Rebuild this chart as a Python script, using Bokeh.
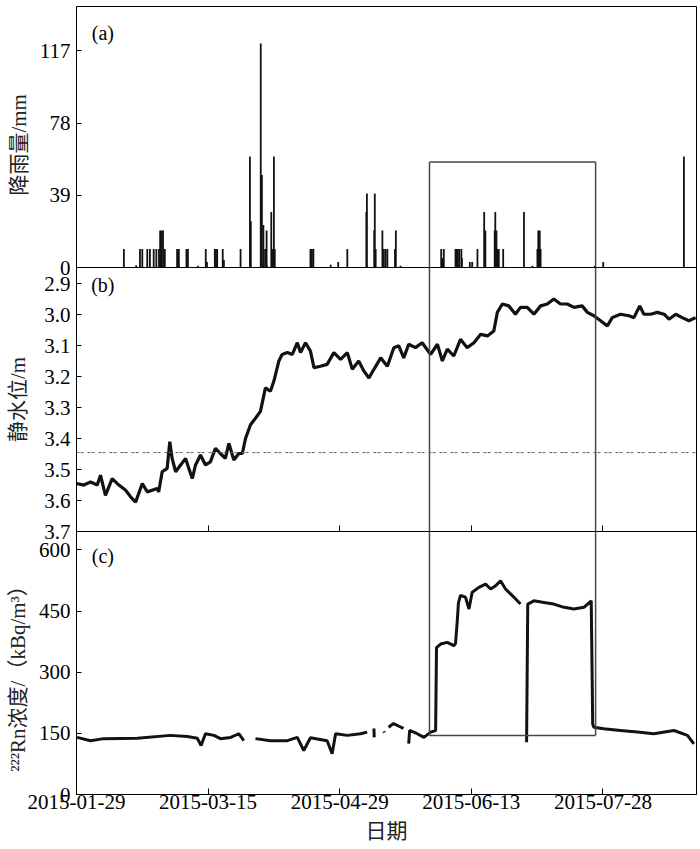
from bokeh.plotting import figure
from bokeh.layouts import column
from bokeh.models import Range1d, FixedTicker, Label, Span, PrintfTickFormatter
from bokeh.embed import file_html
from bokeh.resources import INLINE

NAN = float("nan")

# ---------------- data (x = days since 2015-01-29) ----------------
tick_days = [0, 45, 90, 135, 180]
tick_labels = ["2015-01-29", "2015-03-15", "2015-04-29", "2015-06-13", "2015-07-28"]

rain_day = [16.2, 20.4, 21.7, 22.5, 24.2, 25.1, 26.4, 27.3, 28.2, 28.6, 29.1, 29.6, 30.2,
            34.4, 35.0, 37.6, 38.1, 41.5, 44.2, 44.6, 47.3, 47.7, 48.1, 50.0, 50.4, 56.1,
            59.3, 59.6, 63.0, 63.4, 63.9, 64.5, 65.0, 65.2, 66.6, 66.9, 67.3, 67.5, 67.8,
            80.0, 80.5, 81.0, 86.9, 89.5, 92.6, 99.1, 99.3, 101.8, 102.0, 102.3, 104.6,
            105.1, 105.7, 106.3, 108.9, 109.2, 110.8, 124.7, 125.1, 125.6, 129.6, 130.0,
            130.4, 130.9, 131.6, 131.8, 134.5, 135.3, 137.1, 139.4, 139.8, 143.0, 143.2,
            143.6, 143.9, 144.4, 145.9, 153.0, 155.9, 157.6, 157.9, 158.4, 158.7, 177.2,
            180.1, 207.7]
rain_mm = [10, 1.2, 10, 10, 10, 10, 10, 10, 10, 20, 20, 20, 10,
           10, 10, 10, 10, 1, 10, 3, 10, 10, 10, 10, 4, 10,
           60, 25, 121, 50, 23, 10, 20, 1, 30, 10, 10, 60, 10,
           10, 10, 10, 1.5, 3, 10, 30, 40, 20, 40, 10, 20,
           10, 10, 10, 10, 20, 1, 10, 5, 10, 10, 10,
           10, 10, 10, 5, 3, 3, 10, 30, 20, 20, 30,
           20, 10, 10, 10, 30, 1, 10, 20, 20, 10, 1,
           3, 60]

level_day = [0, 2.5, 4.8, 7.1, 8.2, 9.9, 12.2, 14.5, 16.8, 18.5, 20.2, 22.5, 24.2, 27.6,
             28.1, 29.3, 31.0, 31.9, 32.7, 33.9, 35.6, 37.3, 38.4, 39.6, 40.7, 42.4, 44.1,
             45.8, 47.5, 49.2, 50.9, 52.1, 53.8, 55.5, 56.7, 57.8, 59.5, 61.2, 62.9, 64.6,
             66.3, 67.5, 69.2, 70.3, 72.1, 73.8, 75.5, 76.6, 78.3, 80.0, 81.2, 83.4, 85.7,
             88.0, 90.3, 92.6, 94.3, 96.5, 98.3, 100.0, 101.7, 104.0, 106.3, 108.5, 110.2,
             111.9, 113.6, 115.9, 118.2, 121.1, 123.4, 125.1, 126.8, 129.0, 131.3, 133.6,
             135.9, 138.2, 140.5, 142.7, 143.9, 145.6, 147.8, 150.1, 151.8, 154.1, 156.4,
             158.7, 161.0, 163.2, 165.5, 167.8, 170.1, 172.9, 174.7, 176.9, 179.2, 181.5,
             183.2, 186.0, 188.9, 190.6, 192.6, 194.0, 196.3, 198.6, 200.9, 202.6, 204.9,
             207.1, 209.4, 211.7]
level_m = [3.545, 3.550, 3.540, 3.550, 3.518, 3.583, 3.529, 3.550, 3.567, 3.588, 3.605,
           3.545, 3.572, 3.561, 3.572, 3.507, 3.496, 3.410, 3.464, 3.507, 3.485, 3.464,
           3.496, 3.529, 3.485, 3.453, 3.485, 3.475, 3.431, 3.448, 3.464, 3.415, 3.469,
           3.448, 3.448, 3.399, 3.355, 3.334, 3.312, 3.236, 3.247, 3.214, 3.149, 3.128,
           3.122, 3.128, 3.090, 3.122, 3.090, 3.117, 3.171, 3.166, 3.160, 3.122, 3.144,
           3.122, 3.176, 3.149, 3.182, 3.204, 3.176, 3.139, 3.166, 3.106, 3.100, 3.139,
           3.095, 3.106, 3.090, 3.128, 3.095, 3.149, 3.111, 3.133, 3.079, 3.106, 3.090,
           3.063, 3.068, 3.052, 2.992, 2.965, 2.971, 2.998, 2.976, 2.976, 2.998, 2.971,
           2.965, 2.949, 2.965, 2.965, 2.976, 2.971, 2.992, 3.003, 3.019, 3.036, 3.009,
           2.998, 3.003, 3.009, 2.971, 2.998, 2.998, 2.992, 2.998, 3.014, 2.998, 3.009,
           3.019, 3.009]

rn_day = [0.2, 4.8, 9.3, 20.8, 32.1, 37.9, 41.3, 42.6, 44.1, 47.0, 49.2, 52.7, 55.5, 57.2, NAN,
          61.2, 66.3, 72.1, 75.5, 77.7, 80.0, 85.7, 87.4, 88.6, 92.6, 97.1, 99.4, NAN,
          101.7, 101.8, NAN,
          105.1, 105.3, NAN,
          106.7, 108.4, 110.1, 111.8, NAN,
          113.6, 113.9, 116.5, 118.8, 121.1, 122.8, 123.1, 124.5, 126.8, 129.0, 129.6, 130.2,
          130.6, 131.3, 133.0, 134.2, 135.3, 137.6, 139.9, 141.6, 143.3, 145.0, 146.7, 148.4,
          150.1, 151.8, NAN,
          153.9, 154.3, 156.4, 159.8, 163.2, 166.7, 170.1, 173.5, 176.0, 176.3, 176.5, 176.9,
          180.3, 186.0, 191.8, 197.4, 204.3, 208.9, 211.1]
rn_kbq = [140, 132, 137, 138, 145, 142, 138, 120, 149, 145, 137, 140, 149, 132, NAN,
          137, 132, 132, 140, 108, 139, 132, 100, 149, 145, 149, 153, NAN,
          162, 140, NAN,
          155, 152, NAN,
          165, 174, 168, 162, NAN,
          125, 157, 149, 140, 153, 157, 360, 369, 373, 365, 370, 426,
          470, 488, 484, 455, 496, 508, 516, 504, 512, 524, 504, 492,
          480, 467, NAN,
          128, 467, 475, 471, 467, 459, 455, 459, 475, 300, 173, 165,
          161, 157, 153, 149, 157, 145, 124]

level_ref = 3.445          # dashed reference level
box_day = [120.7, 177.5]   # highlighted period
box_rain_top = 57
box_rn_bottom = 145

# ---------------- styling ----------------
SERIF = "Liberation Serif"
MIXED = "Liberation Serif, Noto Sans CJK SC"
INK = "#121212"
BOX = "#4d4545"
W = 700
LEFT = 76
RIGHT = 4
OVER = 14          # overlap of consecutive panels (room for edge tick labels)
XR = (0, 212)
NB = "\u00a0"


def base(height, y_range, top=0, bottom=0, xaxis=None, margin=None):
    kw = {}
    if margin is not None:
        kw["margin"] = margin
    p = figure(width=W, height=height, x_range=Range1d(*XR), y_range=y_range,
               output_backend="svg", toolbar_location=None,
               x_axis_location=xaxis, y_axis_location="left",
               min_border_left=LEFT, min_border_right=RIGHT,
               min_border_top=top, min_border_bottom=bottom, **kw)
    p.grid.visible = False
    p.outline_line_color = "black"
    p.outline_line_width = 1
    p.background_fill_color = "white"
    p.border_fill_alpha = 0
    ya = p.yaxis[0]
    ya.major_tick_in = 5
    ya.major_tick_out = 0
    ya.minor_tick_line_color = None
    ya.axis_line_color = "black"
    ya.major_tick_line_color = "black"
    ya.major_label_text_font = SERIF
    ya.major_label_text_font_size = "21px"
    ya.major_label_text_color = "black"
    ya.major_label_standoff = 6
    ya.axis_label_text_font = MIXED
    ya.axis_label_text_font_size = "21px"
    ya.axis_label_text_font_style = "normal"
    ya.axis_label_text_color = "#222222"
    return p


def style_x(p, labels):
    xa = p.xaxis[0]
    xa.ticker = FixedTicker(ticks=tick_days)
    xa.major_tick_in = 6
    xa.major_tick_out = 0
    xa.minor_tick_line_color = None
    xa.axis_line_color = "black"
    xa.major_tick_line_color = "black"
    xa.major_label_text_font = SERIF
    xa.major_label_text_color = "black"
    if labels:
        xa.major_label_overrides = {d: t for d, t in zip(tick_days, tick_labels)}
        xa.major_label_text_font_size = "21px"
        xa.major_label_standoff = 0
    else:
        xa.major_label_overrides = {d: "" for d in tick_days}
        xa.major_label_text_font_size = "8px"
        xa.major_label_standoff = 0


def tag(p, x, y, text):
    p.add_layout(Label(x=x, y=y, text=text, text_align="center",
                       text_baseline="middle", text_font=SERIF, text_font_size="20px",
                       text_color="black"))


# ---- panel (a): rainfall ----
pa = base(6 + 261 + OVER, Range1d(0, 141), top=6, bottom=OVER)
pa.yaxis[0].ticker = FixedTicker(ticks=[0, 39, 78, 117])
pa.yaxis[0].axis_label = "降雨量/mm" + NB * 3
pa.yaxis[0].axis_label_standoff = 6
pa.segment(x0=rain_day, y0=[0] * len(rain_day), x1=rain_day, y1=rain_mm,
           line_color=INK, line_width=1.8)
pa.segment(x0=[box_day[0], box_day[1], box_day[0]], y0=[box_rain_top, box_rain_top, box_rain_top],
           x1=[box_day[0], box_day[1], box_day[1]], y1=[-10, -10, box_rain_top],
           line_color=BOX, line_width=1.5)
tag(pa, 9.0, 126.5, "(a)")

# ---- panel (b): static water level ----
pb = base(264 + OVER, Range1d(3.70, 2.847), bottom=OVER, xaxis="below", margin=(-OVER, 0, 0, 0))
style_x(pb, labels=False)
pb.yaxis[0].ticker = FixedTicker(ticks=[2.9, 3.0, 3.1, 3.2, 3.3, 3.4, 3.5, 3.6, 3.7])
pb.yaxis[0].formatter = PrintfTickFormatter(format="%.1f")
pb.yaxis[0].axis_label = "静水位/m"
pb.yaxis[0].axis_label_standoff = 11
pb.add_layout(Span(location=level_ref, dimension="width", line_color="#5e5e5e",
                   line_width=1, line_dash="3 1 3 4"))
pb.line(level_day, level_m, line_color=INK, line_width=3.2)
pb.segment(x0=box_day, y0=[2.5, 2.5], x1=box_day, y1=[4.0, 4.0],
           line_color=BOX, line_width=1.5)
tag(pb, 9.0, 2.905, "(b)")

# ---- panel (c): radon ----
pc = base(263 + 54, Range1d(0, 645), bottom=54, xaxis="below", margin=(-OVER, 0, 0, 0))
style_x(pc, labels=True)
pc.yaxis[0].ticker = FixedTicker(ticks=[0, 150, 300, 450, 600])
pc.yaxis[0].axis_label = "²²²Rn浓度/（kBq/m³）" + NB * 4
pc.yaxis[0].axis_label_standoff = 6
xa = pc.xaxis[0]
xa.axis_label = "日期"
xa.axis_label_text_font = MIXED
xa.axis_label_text_font_size = "21px"
xa.axis_label_text_font_style = "normal"
xa.axis_label_text_color = "#222222"
xa.axis_label_standoff = 7
pc.line(rn_day, rn_kbq, line_color=INK, line_width=3.0)
pc.segment(x0=[box_day[0], box_day[1], box_day[0]], y0=[800, 800, box_rn_bottom],
           x1=[box_day[0], box_day[1], box_day[1]], y1=[box_rn_bottom, box_rn_bottom, box_rn_bottom],
           line_color=BOX, line_width=1.5)
tag(pc, 9.0, 586, "(c)")

layout = column(pa, pb, pc, spacing=0)
open("out.html", "w").write(file_html(layout, INLINE))
